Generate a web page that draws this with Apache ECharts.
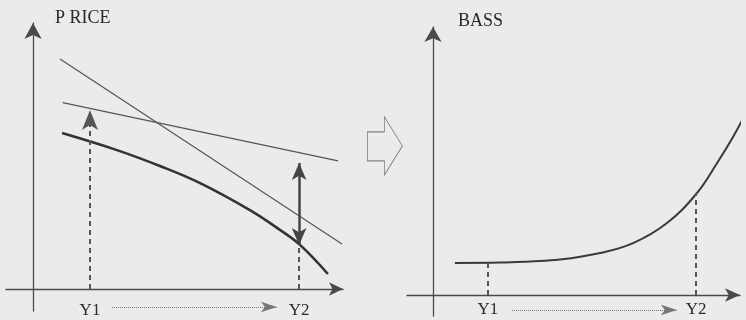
<!DOCTYPE html>
<html><head><meta charset="utf-8">
<script src="https://cdn.jsdelivr.net/npm/echarts@6/dist/echarts.min.js"></script>
<style>html,body{margin:0;padding:0;background:#ebebeb}#c{width:746px;height:320px}</style>
</head><body><div id="c"></div>
<script>
// ---- data (abstract units: origin at the axis crossing) ----
const timeLabels = ['Y1', 'Y2'];
const priceTimeX = [19, 88.7];
const bassTimeX = [18.3, 87.7];
const priceSteep = [[9, 76.7], [103, 15]];
const priceShallow = [[9.9, 62.1], [101.7, 42.7]];
const priceCurve = [[9.7, 52], [28, 46.3], [42.3, 41], [55.7, 35.3], [72.3, 26.3], [82.3, 19.7], [89, 14.7], [98.3, 5]];
const bassCurve = [[7.3, 10.7], [22.3, 10.8], [32.3, 11.2], [42.3, 11.8], [55.7, 14], [66.7, 17.3], [78, 24], [88, 34], [94.7, 44], [100, 52.7], [104.3, 60.7]];
const priceY1ArrowTop = 59.7;
const priceY2Gap = [14.7, 42];
const priceCurveAtY2 = 14.7;
const bassAtTime = [10.7, 34];
const timeArrowX = [26.3, 81.3];
const timeArrowY = [-6, -5];
const shiftArrowAt = [[117.3, 47.7]];

const SERIF = "'Liberation Serif','Times New Roman',serif";
const AX = '#4a4a4a';

function xAx(gi, min, max, vals, margin, symSize) {
  return {
    gridIndex: gi, type: 'value', min: min, max: max,
    axisLine: { onZero: true, symbol: ['none', 'arrow'], symbolSize: symSize, lineStyle: { color: AX, width: 1.3 } },
    axisTick: { show: false }, splitLine: { show: false },
    axisLabel: {
      customValues: vals, margin: margin, color: '#2a2a2a', fontSize: 17, fontFamily: SERIF,
      formatter: function (v) { const i = vals.findIndex(function (t) { return Math.abs(t - v) < 0.01; }); return i >= 0 ? timeLabels[i] : ''; }
    }
  };
}
function yAx(gi, min, max, name, pad, gap, symSize) {
  return {
    gridIndex: gi, type: 'value', min: min, max: max,
    name: name, nameLocation: 'end', nameGap: gap,
    nameTextStyle: { align: 'left', verticalAlign: 'middle', padding: [0, 0, 0, pad], fontSize: 18, fontFamily: SERIF, color: '#2a2a2a' },
    axisLine: { onZero: true, symbol: ['none', 'arrow'], symbolSize: symSize, lineStyle: { color: AX, width: 1.3 } },
    axisTick: { show: false }, splitLine: { show: false }, axisLabel: { show: false }
  };
}
function seg(x1, y1, x2, y2, s1, s2, size1, size2, style) {
  return [
    { coord: [x1, y1], symbol: s1, symbolSize: size1, lineStyle: style },
    { coord: [x2, y2], symbol: s2, symbolSize: size2, lineStyle: style }
  ];
}
const dashed = { type: [5, 4], width: 2, color: '#555' };
const dotted = { type: 'dotted', width: 1, color: '#777' };
const solidThick = { type: 'solid', width: 2.5, color: '#444' };

const option = {
  animation: false,
  backgroundColor: '#ebebeb',
  grid: [
    { left: 6, right: 403, top: 23, bottom: 9, containLabel: false, outerBoundsMode: 'none' },
    { left: 407, right: 6, top: 27, bottom: 4, containLabel: false, outerBoundsMode: 'none' }
  ],
  xAxis: [
    xAx(0, -9, 103.33, priceTimeX, -9, [10, 14]),
    xAx(1, -8.67, 102.33, bassTimeX, -15, [10, 15])
  ],
  yAxis: [
    yAx(0, -7.33, 88.67, 'P RICE', 22, 4.5, [13, 16]),
    yAx(1, -7, 89.33, 'BASS', 25, 5.5, [13, 15])
  ],
  series: [
    { type: 'line', xAxisIndex: 0, yAxisIndex: 0, data: priceSteep, symbol: 'none', clip: false, silent: true,
      lineStyle: { color: '#555', width: 1.2 } },
    { type: 'line', xAxisIndex: 0, yAxisIndex: 0, data: priceShallow, symbol: 'none', clip: false, silent: true,
      lineStyle: { color: '#555', width: 1.2 } },
    { type: 'line', xAxisIndex: 0, yAxisIndex: 0, data: priceCurve, symbol: 'none', smooth: 0.4, clip: false, silent: true,
      lineStyle: { color: '#333', width: 2.6 }, z: 3,
      markLine: {
        silent: true, animation: false, symbol: ['none', 'none'], label: { show: false }, emphasis: { disabled: true },
        data: [
          seg(priceTimeX[0], 0, priceTimeX[0], priceY1ArrowTop, 'none', 'arrow', 1, [12, 20], dashed),
          seg(priceTimeX[1], 0, priceTimeX[1], priceCurveAtY2, 'none', 'none', 1, 1, dashed),
          seg(priceTimeX[1], priceY2Gap[0], priceTimeX[1], priceY2Gap[1], 'arrow', 'arrow', [11, 17], [11, 17], solidThick),
          seg(timeArrowX[0], timeArrowY[0], timeArrowX[1], timeArrowY[0], 'none', 'arrow', 1, [8, 16], dotted)
        ]
      } },
    { type: 'scatter', xAxisIndex: 0, yAxisIndex: 0, data: shiftArrowAt, clip: false, silent: true,
      symbol: 'path://M0,15 L17,15 L17,0 L35,29 L17,58 L17,44 L0,44 Z', symbolSize: [35, 58], symbolKeepAspect: false,
      itemStyle: { color: '#ebebeb', borderColor: '#666', borderWidth: 1 } },
    { type: 'line', xAxisIndex: 1, yAxisIndex: 1, data: bassCurve, symbol: 'none', smooth: 0.4, clip: false, silent: true,
      lineStyle: { color: '#3a3a3a', width: 2 }, z: 3,
      markLine: {
        silent: true, animation: false, symbol: ['none', 'none'], label: { show: false }, emphasis: { disabled: true },
        data: [
          seg(bassTimeX[0], 0, bassTimeX[0], bassAtTime[0], 'none', 'none', 1, 1, dashed),
          seg(bassTimeX[1], 0, bassTimeX[1], bassAtTime[1], 'none', 'none', 1, 1, dashed),
          seg(timeArrowX[0], timeArrowY[1], timeArrowX[1], timeArrowY[1], 'none', 'arrow', 1, [8, 16], dotted)
        ]
      } }
  ]
};
echarts.init(document.getElementById('c'), null, { renderer: 'canvas' }).setOption(option);
</script></body></html>
